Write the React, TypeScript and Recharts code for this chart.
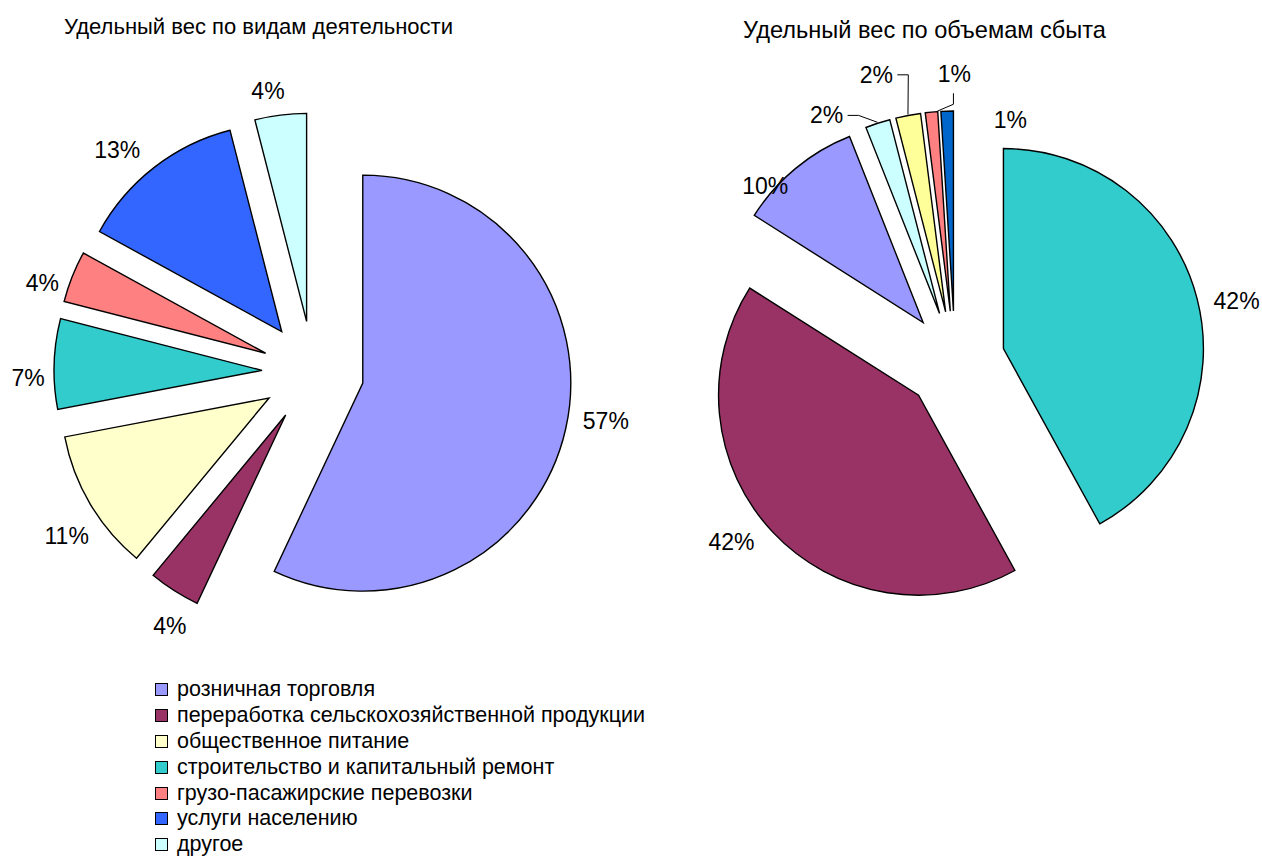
import React from 'react'
import { PieChart, Pie, Cell, Sector } from 'recharts'

const activityCategories = [
  'розничная торговля',
  'переработка сельскохозяйственной продукции',
  'общественное питание',
  'строительство и капитальный ремонт',
  'грузо-пасажирские перевозки',
  'услуги населению',
  'другое',
]
const activityShares = [57, 4, 11, 7, 4, 13, 4]
const activityColors = ['#9999FF', '#993366', '#FFFFCC', '#33CCCC', '#FF8080', '#3366FF', '#CCFFFF']

// right pie, drawn clockwise from 12 o'clock
const salesCategories = [
  'строительство и капитальный ремонт',
  'переработка сельскохозяйственной продукции',
  'розничная торговля',
  'другое',
  'общественное питание',
  'грузо-пасажирские перевозки',
  'услуги населению',
]
const salesShares = [42, 42, 10, 2, 2, 1, 1]
const salesColors = ['#33CCCC', '#993366', '#9999FF', '#CCFFFF', '#FFFF99', '#FF8080', '#0066CC']

const activityData = activityCategories.map((name, i) => ({ name, value: activityShares[i] }))
const salesData = salesCategories.map((name, i) => ({ name, value: salesShares[i] }))

// label placement: [angle shift (deg, clockwise), distance from slice apex, leader line]
const activityLabelPos = [
  [-3.7, 246, null], [-3.7, 241, null], [-3.7, 245, null], [-3.6, 234, null],
  [-4.2, 234, null], [-4.4, 245, null], [-2.3, 234, null],
]
const salesLabelPos = [
  [2.8, 238, null], [5, 238, null], [-9.5, 209, null], [-11.7, 228, 'right'],
  [-5.5, 247, 'right'], [6.4, 237, 'down'], [18.4, 199, null],
]

const RAD = Math.PI / 180
const FONT = '"Liberation Sans", Arial, sans-serif'

const explode = (dist) => (props) => {
  const a = -props.midAngle * RAD
  return (
    <Sector
      {...props}
      cx={props.cx + dist * Math.cos(a)}
      cy={props.cy + dist * Math.sin(a)}
      stroke="#000"
      strokeWidth={1.4}
    />
  )
}

const makeLabel = (dist, layout) => (props) => {
  const { cx, cy, midAngle, outerRadius, index, value } = props
  const a = -midAngle * RAD
  const ox = cx + dist * Math.cos(a)
  const oy = cy + dist * Math.sin(a)
  const [shift, r, leader] = layout[index]
  const b = -(midAngle - shift) * RAD
  const lx = ox + r * Math.cos(b)
  const ly = oy + r * Math.sin(b)
  const ax = ox + (outerRadius + 1) * Math.cos(a)
  const ay = oy + (outerRadius + 1) * Math.sin(a)
  let line = null
  if (leader === 'right') {
    line = `${lx + 21},${ly} ${lx + 32},${ly} ${ax},${ay}`
  } else if (leader === 'down') {
    line = `${lx - 1},${ly + 19} ${lx - 1},${ly + 30} ${ax + 6},${ay}`
  }
  return (
    <g>
      {line && <polyline points={line} fill="none" stroke="#000" strokeWidth={1} />}
      <text
        x={lx}
        y={ly}
        textAnchor="middle"
        dominantBaseline="central"
        fontFamily={FONT}
        fontSize={23}
        fill="#000"
      >
        {value}%
      </text>
    </g>
  )
}

export default function App() {
  return (
    <div style={{ position: 'absolute', left: 0, top: 0, width: 1262, height: 856, background: '#fff', fontFamily: FONT }}>
      <div style={{ position: 'absolute', left: 64, top: 14, fontSize: 22, lineHeight: '26px' }}>
        Удельный вес по видам деятельности
      </div>
      <div style={{ position: 'absolute', left: 743, top: 17, fontSize: 23.6, lineHeight: '26px' }}>
        Удельный вес по объемам сбыта
      </div>

      <PieChart
        width={1262}
        height={856}
        margin={{ top: 0, right: 0, bottom: 0, left: 0 }}
        style={{ position: 'absolute', left: 0, top: 0 }}
      >
        <Pie
          data={activityData}
          dataKey="value"
          nameKey="name"
          cx={313}
          cy={372}
          outerRadius={208}
          startAngle={90}
          endAngle={-270}
          shape={explode(51)}
          label={makeLabel(51, activityLabelPos)}
          labelLine={false}
          stroke="#000"
          isAnimationActive={false}
        >
          {activityData.map((d, i) => (
            <Cell key={d.name} fill={activityColors[i]} />
          ))}
        </Pie>
        <Pie
          data={salesData}
          dataKey="value"
          nameKey="name"
          cx={955}
          cy={361}
          outerRadius={200}
          startAngle={90}
          endAngle={-270}
          shape={explode(50)}
          label={makeLabel(50, salesLabelPos)}
          labelLine={false}
          stroke="#000"
          isAnimationActive={false}
        >
          {salesData.map((d, i) => (
            <Cell key={d.name} fill={salesColors[i]} />
          ))}
        </Pie>
      </PieChart>

      <div style={{ position: 'absolute', left: 155, top: 677 }}>
        {activityCategories.map((name, i) => (
          <div key={name} style={{ display: 'flex', alignItems: 'center', height: 25.8, fontSize: 21.5 }}>
            <span style={{ width: 11, height: 11, border: '1px solid #000', background: activityColors[i], marginRight: 9, flexShrink: 0 }} />
            {name}
          </div>
        ))}
      </div>
    </div>
  )
}
